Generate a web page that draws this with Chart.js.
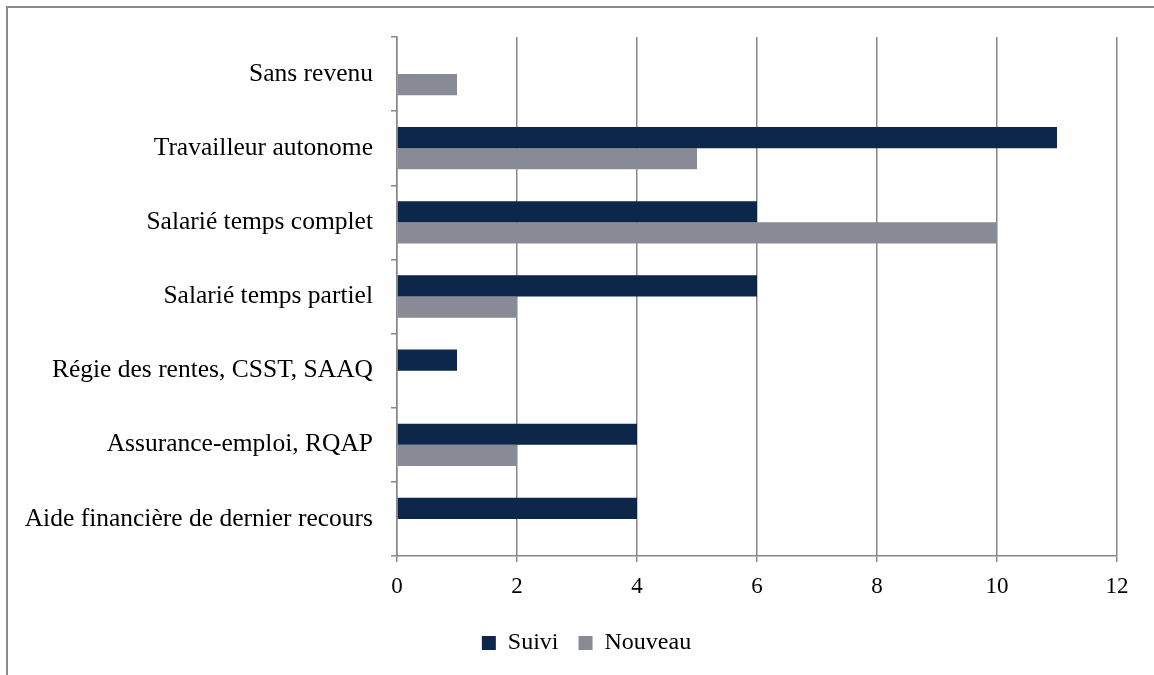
<!DOCTYPE html>
<html>
<head>
<meta charset="utf-8">
<script src="https://cdn.jsdelivr.net/npm/chart.js@4.4.0/dist/chart.umd.min.js"></script>
<style>
  html, body { margin: 0; padding: 0; background: #ffffff; overflow: hidden; }
  #wrap { position: relative; width: 1154px; height: 675px; }
  #frame { position: absolute; left: 6px; top: 6px; width: 1200px; height: 720px; border: 2px solid #8a8a8a; box-sizing: border-box; }
  canvas { position: absolute; left: 0; top: 0; }
</style>
</head>
<body>
<div id="wrap">
  <div id="frame"></div>
  <canvas id="c" width="1154" height="675"></canvas>
</div>
<script>
const categories = [
  "Sans revenu",
  "Travailleur autonome",
  "Salarié temps complet",
  "Salarié temps partiel",
  "Régie des rentes, CSST, SAAQ",
  "Assurance-emploi, RQAP",
  "Aide financière de dernier recours"
];
const suivi   = [0, 11, 6, 6, 1, 4, 4];
const nouveau = [1, 5, 10, 2, 0, 2, 0];
const xTicks = [0, 2, 4, 6, 8, 10, 12];

const FONT = "'Liberation Serif', 'Times New Roman', serif";
const GRID = '#878787';

// Shift the legend so it is centred where the original's legend sits
const legendShift = {
  id: 'legendShift',
  afterLayout(chart) {
    const lg = chart.legend;
    if (lg) { lg.left += 56; lg.right += 0; }
  }
};

new Chart(document.getElementById('c'), {
  type: 'bar',
  data: {
    labels: categories,
    datasets: [
      { label: 'Suivi', data: suivi, backgroundColor: '#0c2749', borderWidth: 0 },
      { label: 'Nouveau', data: nouveau, backgroundColor: '#888b95', borderWidth: 0 }
    ]
  },
  plugins: [legendShift],
  options: {
    indexAxis: 'y',
    responsive: false,
    animation: false,
    devicePixelRatio: 1,
    categoryPercentage: 0.57,
    barPercentage: 1.0,
    layout: { padding: { left: 0, right: 37, top: 37, bottom: 10 } },
    scales: {
      x: {
        min: 0, max: 12,
        afterBuildTicks: (s) => { s.ticks = xTicks.map(v => ({ value: v })); },
        afterFit: (s) => { s.height = 55; },
        grid: { color: GRID, lineWidth: 1.5, tickLength: 6, drawTicks: true },
        border: { color: GRID, width: 1.5 },
        ticks: { color: '#000', font: { family: FONT, size: 23 }, padding: 11 }
      },
      y: {
        afterFit: (s) => { s.width = 397; },
        grid: { offset: true, drawOnChartArea: false, color: GRID, lineWidth: 1.5, tickLength: 6 },
        border: { color: GRID, width: 1.5 },
        ticks: { color: '#000', font: { family: FONT, size: 25.5 }, padding: 18 }
      }
    },
    plugins: {
      legend: {
        position: 'bottom',
        labels: {
          color: '#000',
          font: { family: FONT, size: 24 },
          boxWidth: 14, boxHeight: 14,
          padding: 20
        }
      },
      tooltip: { enabled: false }
    }
  }
});
</script>
</body>
</html>
